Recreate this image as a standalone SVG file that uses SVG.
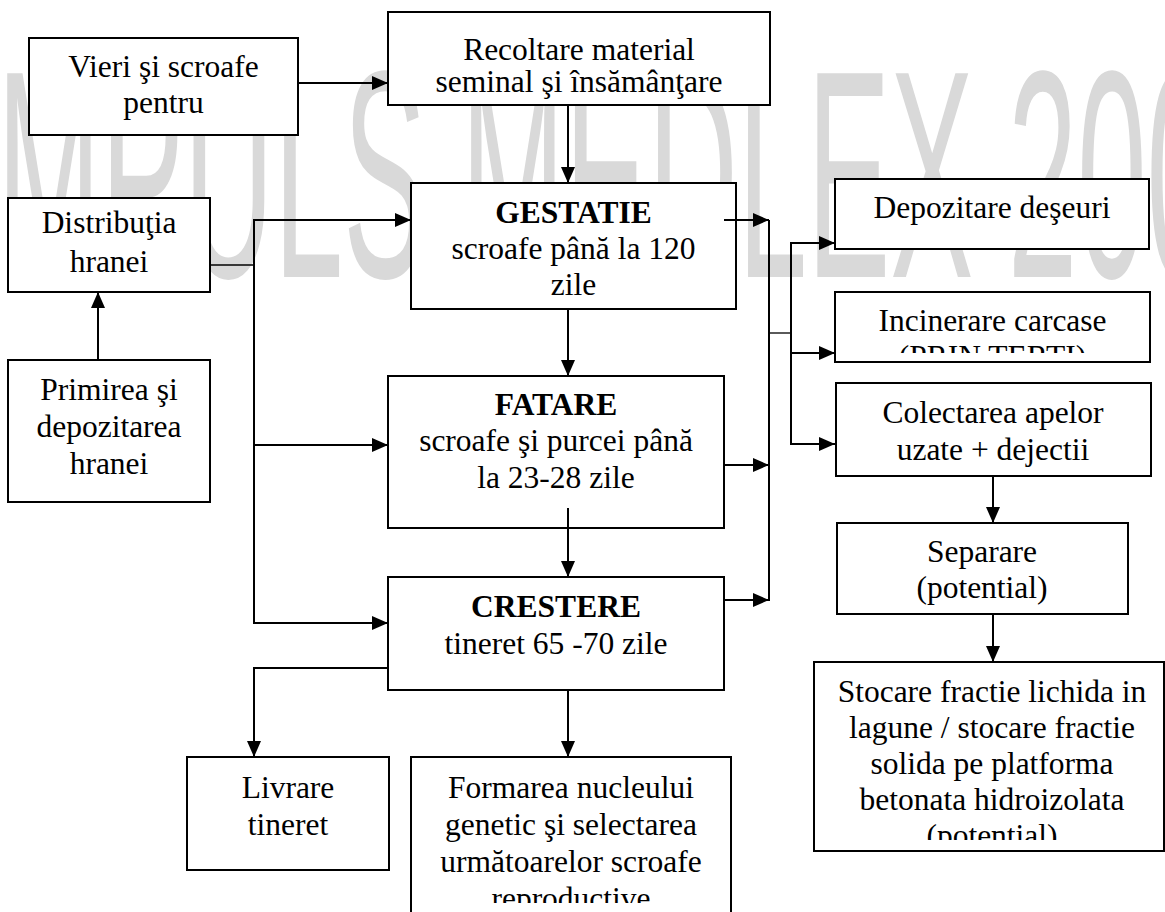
<svg xmlns="http://www.w3.org/2000/svg" width="1165" height="912" viewBox="0 0 1165 912">
<style>
.box{fill:#fff;stroke:#000;stroke-width:2}
.c{fill:none;stroke:#000;stroke-width:2}
.thin{fill:none;stroke:#000;stroke-width:1.3}
</style>
<defs>
<marker id="ah" markerUnits="userSpaceOnUse" markerWidth="16" markerHeight="14" refX="16" refY="7" orient="auto">
<path d="M0,0 L16,7 L0,14 z" fill="#000"/>
</marker>
<clipPath id="clipInc"><rect x="835" y="292" width="315" height="61"/></clipPath>
<clipPath id="clipSto"><rect x="814" y="662" width="351" height="178"/></clipPath>
<clipPath id="clipFor"><rect x="411" y="757" width="320" height="146"/></clipPath>
</defs>
<rect width="1165" height="912" fill="#fff"/>
<text font-family="Liberation Sans, Arial, sans-serif" font-size="296" fill="#d9d9d9" transform="translate(-3,277) scale(0.421,1)">MPULS MEDLEX 200</text>

<g id="connectors">
<line class="c" x1="298" y1="83" x2="388" y2="83" marker-end="url(#ah)"/>
<line class="c" x1="568" y1="105" x2="568" y2="183" marker-end="url(#ah)"/>
<line class="c" x1="98" y1="360" x2="98" y2="292" marker-end="url(#ah)"/>
<line class="thin" x1="210" y1="265" x2="254" y2="265"/>
<line class="c" x1="254" y1="219" x2="254" y2="624"/>
<line class="c" x1="253" y1="220" x2="411" y2="220" marker-end="url(#ah)"/>
<line class="c" x1="253" y1="445" x2="388" y2="445" marker-end="url(#ah)"/>
<line class="c" x1="253" y1="623" x2="388" y2="623" marker-end="url(#ah)"/>
<line class="c" x1="568" y1="309" x2="568" y2="376" marker-end="url(#ah)"/>
<line class="c" x1="568" y1="508" x2="568" y2="577" marker-end="url(#ah)"/>
<polyline class="c" points="388,668 254,668 254,757" marker-end="url(#ah)"/>
<line class="c" x1="568" y1="690" x2="568" y2="757" marker-end="url(#ah)"/>
<line class="c" x1="724" y1="220" x2="769" y2="220" marker-end="url(#ah)"/>
<line class="c" x1="769" y1="220" x2="769" y2="601"/>
<line class="c" x1="724" y1="465" x2="769" y2="465" marker-end="url(#ah)"/>
<line class="c" x1="724" y1="600" x2="769" y2="600" marker-end="url(#ah)"/>
<line class="thin" x1="769" y1="333" x2="791" y2="333"/>
<line class="c" x1="791" y1="242" x2="791" y2="445"/>
<line class="c" x1="790" y1="243" x2="835" y2="243" marker-end="url(#ah)"/>
<line class="c" x1="790" y1="353" x2="835" y2="353" marker-end="url(#ah)"/>
<line class="c" x1="790" y1="444" x2="835" y2="444" marker-end="url(#ah)"/>
<line class="c" x1="993" y1="476" x2="993" y2="523" marker-end="url(#ah)"/>
<line class="c" x1="993" y1="614" x2="993" y2="662" marker-end="url(#ah)"/>
</g>

<g font-family="Liberation Serif, Times New Roman, serif" font-size="31.5" fill="#000" text-anchor="middle">
<g id="vieri">
<rect class="box" x="29" y="38" width="269" height="97"/>
<text x="163.5" y="77">Vieri şi scroafe</text>
<text x="163.5" y="113">pentru</text>
</g>
<g id="recoltare">
<rect class="box" x="388" y="12" width="382" height="93"/>
<text x="579" y="60">Recoltare material</text>
<text x="579" y="92">seminal şi însămânţare</text>
</g>
<g id="distributia">
<rect class="box" x="8" y="198" width="202" height="94"/>
<text x="109" y="233">Distribuţia</text>
<text x="109" y="272">hranei</text>
</g>
<g id="primirea">
<rect class="box" x="8" y="360" width="202" height="142"/>
<text x="109" y="400">Primirea şi</text>
<text x="109" y="437">depozitarea</text>
<text x="109" y="474">hranei</text>
</g>
<g id="gestatie">
<rect class="box" x="411" y="183" width="325" height="126"/>
<text x="573.5" y="223" font-weight="bold">GESTATIE</text>
<text x="573.5" y="259">scroafe până la 120</text>
<text x="573.5" y="295">zile</text>
</g>
<line class="c" x1="724" y1="220" x2="736" y2="220"/>
<g id="fatare">
<rect class="box" x="388" y="376" width="336" height="152"/>
<text x="556" y="415" font-weight="bold">FATARE</text>
<text x="556" y="451">scroafe şi purcei până</text>
<text x="556" y="488">la 23-28 zile</text>
</g>
<line class="c" x1="568" y1="508" x2="568" y2="528"/>
<g id="crestere">
<rect class="box" x="388" y="577" width="336" height="113"/>
<text x="556" y="617" font-weight="bold">CRESTERE</text>
<text x="556" y="654">tineret 65 -70 zile</text>
</g>
<g id="livrare">
<rect class="box" x="187" y="757" width="202" height="113"/>
<text x="288" y="798">Livrare</text>
<text x="288" y="835">tineret</text>
</g>
<g id="formarea">
<rect class="box" x="411" y="757" width="320" height="170"/>
<g clip-path="url(#clipFor)">
<text x="571" y="798">Formarea nucleului</text>
<text x="571" y="835">genetic şi selectarea</text>
<text x="571" y="872">următoarelor scroafe</text>
<text x="571" y="909">reproductive</text>
</g>
</g>
<g id="depozitare">
<rect class="box" x="835" y="179" width="314" height="70"/>
<text x="992" y="218">Depozitare deşeuri</text>
</g>
<g id="incinerare">
<rect class="box" x="835" y="292" width="315" height="70"/>
<g clip-path="url(#clipInc)">
<text x="992.5" y="331">Incinerare carcase</text>
<text x="992.5" y="367">(PRIN TERTI)</text>
</g>
</g>
<g id="colectarea">
<rect class="box" x="836" y="383" width="315" height="93"/>
<text x="993" y="423">Colectarea apelor</text>
<text x="993" y="460">uzate + dejectii</text>
</g>
<g id="separare">
<rect class="box" x="837" y="523" width="291" height="91"/>
<text x="982" y="562">Separare</text>
<text x="982" y="598">(potential)</text>
</g>
<g id="stocare">
<rect class="box" x="814" y="662" width="350" height="189"/>
<g clip-path="url(#clipSto)">
<text x="992" y="702">Stocare fractie lichida in</text>
<text x="992" y="738">lagune / stocare fractie</text>
<text x="992" y="774">solida pe platforma</text>
<text x="992" y="810">betonata hidroizolata</text>
<text x="992" y="846">(potential)</text>
</g>
</g>
</g>
</svg>
